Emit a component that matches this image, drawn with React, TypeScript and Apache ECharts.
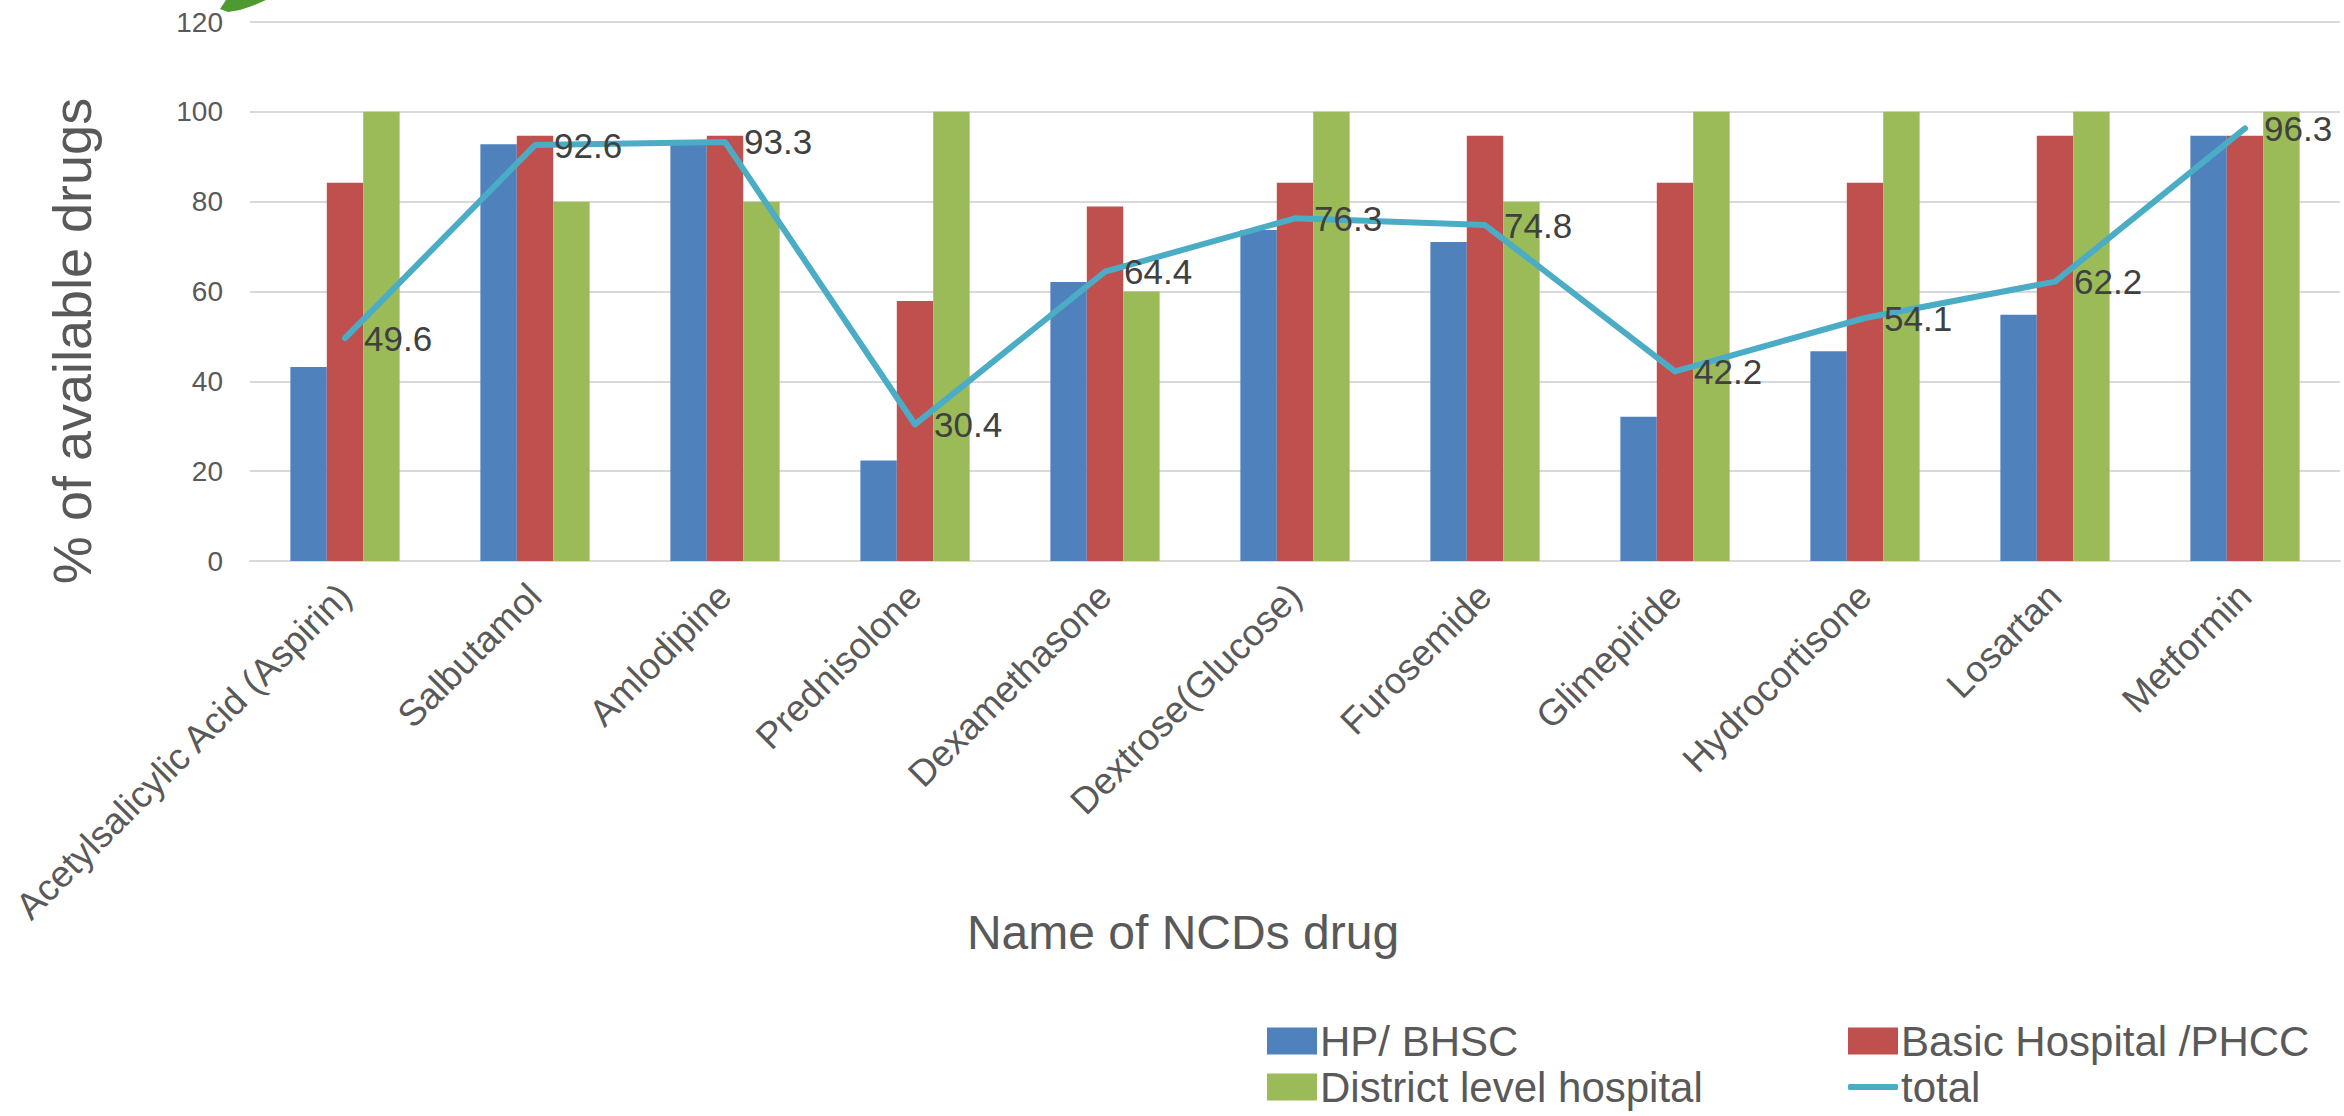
import React, { useEffect, useRef } from "react";
import * as echarts from "echarts";

// Drug names on the category axis
const categories = [
  "Acetylsalicylic Acid (Aspirin)",
  "Salbutamol",
  "Amlodipine",
  "Prednisolone",
  "Dexamethasone",
  "Dextrose(Glucose)",
  "Furosemide",
  "Glimepiride",
  "Hydrocortisone",
  "Losartan",
  "Metformin",
];

// % availability by facility level
const hpBhsc = [43.2, 92.8, 92.8, 22.4, 62.1, 73.7, 71.0, 32.1, 46.7, 54.8, 94.7];
const basicHospital = [84.2, 94.7, 94.7, 57.9, 78.9, 84.2, 94.7, 84.2, 84.2, 94.7, 94.7];
const districtHospital = [100, 80, 80, 100, 60, 100, 80, 100, 100, 100, 100];
const total = [49.6, 92.6, 93.3, 30.4, 64.4, 76.3, 74.8, 42.2, 54.1, 62.2, 96.3];

const seriesNames = ["HP/ BHSC", "Basic Hospital /PHCC", "District level hospital", "total"];
const yTicks = { min: 0, max: 120, interval: 20 };

const FONT = "'Liberation Sans', Arial, sans-serif";
const GREY = "#595959";
const LINE_COLOR = "#4BACC6";

export default function App() {
  const ref = useRef<HTMLDivElement>(null);

  useEffect(() => {
    document.body.style.margin = "0";
    if (!ref.current) return;
    const chart = echarts.init(ref.current, null, { renderer: "svg" });

    const legendText = { fontFamily: FONT, fontSize: 42, color: GREY, padding: [0, 0, 0, -2] };
    const legendItem = (name: string, left: number, top: number, extra: any = {}) => ({
      data: [{ name, icon: "rect" }],
      left,
      top,
      orient: "horizontal",
      itemWidth: 50,
      itemHeight: 27,
      itemGap: 0,
      padding: 0,
      textStyle: legendText,
      selectedMode: false,
      ...extra,
    });

    chart.setOption({
      animation: false,
      backgroundColor: "#ffffff",
      textStyle: { fontFamily: FONT },
      grid: { left: 250, right: 4, top: 22, bottom: 555, containLabel: false },
      legend: [
        legendItem(seriesNames[0], 1267, 1020),
        legendItem(seriesNames[1], 1848, 1020),
        legendItem(seriesNames[2], 1267, 1066),
        legendItem(seriesNames[3], 1848, 1066, {
          data: [{ name: seriesNames[3], icon: "roundRect" }],
          itemHeight: 6,
          itemStyle: { color: LINE_COLOR, borderWidth: 0 },
        }),
      ],
      xAxis: {
        type: "category",
        data: categories,
        boundaryGap: true,
        axisLine: { show: true, lineStyle: { color: "#D9D9D9", width: 2 } },
        axisTick: { show: false },
        axisLabel: {
          interval: 0,
          rotate: 45,
          margin: 29,
          padding: [36, 0, 0, 0],
          fontFamily: FONT,
          fontSize: 37,
          color: GREY,
        },
      },
      yAxis: {
        type: "value",
        min: yTicks.min,
        max: yTicks.max,
        interval: yTicks.interval,
        axisLine: { show: false },
        axisTick: { show: false },
        splitLine: { lineStyle: { color: "#D9D9D9", width: 2 } },
        axisLabel: { margin: 27, fontFamily: FONT, fontSize: 28, color: GREY },
      },
      series: [
        {
          name: seriesNames[0],
          type: "bar",
          data: hpBhsc,
          barGap: "0%",
          barCategoryGap: "42.5%",
          itemStyle: { color: "#4F81BD" },
        },
        {
          name: seriesNames[1],
          type: "bar",
          data: basicHospital,
          barGap: "0%",
          barCategoryGap: "42.5%",
          itemStyle: { color: "#C0504D" },
        },
        {
          name: seriesNames[2],
          type: "bar",
          data: districtHospital,
          barGap: "0%",
          barCategoryGap: "42.5%",
          itemStyle: { color: "#9BBB59" },
        },
        {
          name: seriesNames[3],
          type: "line",
          data: total,
          symbol: "circle",
          symbolSize: 2,
          itemStyle: { color: LINE_COLOR },
          lineStyle: { color: LINE_COLOR, width: 6, cap: "round", join: "round" },
          label: {
            show: true,
            position: "right",
            distance: 18,
            fontFamily: FONT,
            fontSize: 35,
            color: "#404040",
          },
          z: 5,
        },
      ],
      graphic: [
        {
          type: "text",
          x: 72,
          y: 341,
          rotation: Math.PI / 2,
          style: {
            text: "% of available drugs",
            fontFamily: FONT,
            fontSize: 54,
            fill: GREY,
            textAlign: "center",
            textVerticalAlign: "middle",
          },
        },
        {
          type: "text",
          x: 1183,
          y: 932,
          style: {
            text: "Name of NCDs drug",
            fontFamily: FONT,
            fontSize: 48,
            fill: GREY,
            textAlign: "center",
            textVerticalAlign: "middle",
          },
        },
        {
          // cropped green emblem at the upper-left edge
          type: "polygon",
          shape: {
            points: [
              [220, 9],
              [228, 12],
              [240, 10],
              [252, 6],
              [266, 0],
              [226, 0],
            ],
          },
          style: { fill: "#4F9A30" },
        },
      ],
    });

    return () => chart.dispose();
  }, []);

  return <div ref={ref} style={{ width: 2344, height: 1116 }} />;
}
